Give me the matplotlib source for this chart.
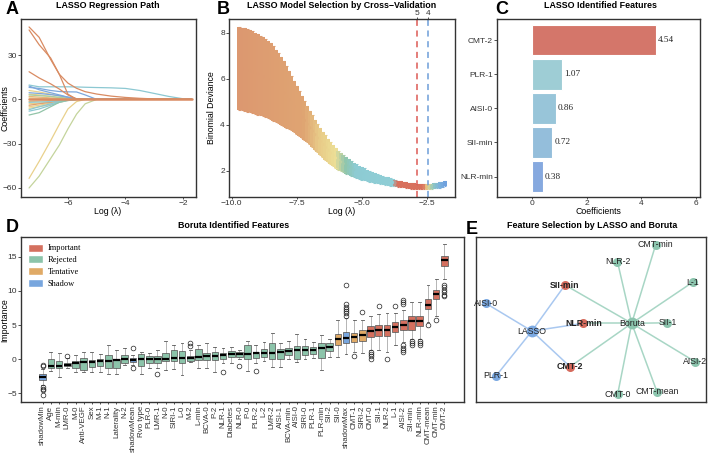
import matplotlib
matplotlib.use('Agg')
import matplotlib.pyplot as plt
import numpy as np
from matplotlib.patches import Patch
from matplotlib.colors import LinearSegmentedColormap

plt.rcParams['font.family'] = ['Liberation Sans', 'DejaVu Sans']
plt.rcParams['axes.unicode_minus'] = True

# ---------------- Panel A data: LASSO coefficient paths ----------------
lam_path = [-7.35, -7.0, -6.6, -6.3, -6.0, -5.7, -5.4, -5.0, -4.5, -4.0, -3.5, -3.0, -2.5, -2.0, -1.7]
a_paths = [
    [6.0, 5.0, 3.5, 2.2, 1.0, 0.2, 0, 0, 0, 0, 0, 0, 0, 0, 0],
    [3.5, 3.0, 2.0, 1.0, 0.3, 0, 0, 0, 0, 0, 0, 0, 0, 0, 0],
    [-3.0, -2.5, -1.8, -1.0, -0.3, 0, 0, 0, 0, 0, 0, 0, 0, 0, 0],
    [-5.0, -4.0, -2.5, -1.5, -0.5, 0, 0, 0, 0, 0, 0, 0, 0, 0, 0],
    [-6.0, -5.0, -3.5, -2.0, -0.8, 0, 0, 0, 0, 0, 0, 0, 0, 0, 0],
    [1.0, 0.8, 0.5, 0.3, 0.1, 0, 0, 0, 0, 0, 0, 0, 0, 0, 0],
    [-1.5, -1.2, -0.8, -0.4, 0, 0, 0, 0, 0, 0, 0, 0, 0, 0, 0],
    [2.0, 1.5, 1.0, 0.6, 0.2, 0, 0, 0, 0, 0, 0, 0, 0, 0, 0],
    [-4.0, -3.0, -2.0, -1.0, -0.4, 0, 0, 0, 0, 0, 0, 0, 0, 0, 0],
    [-7.0, -5.0, -3.0, -1.5, -0.5, 0, 0, 0, 0, 0, 0, 0, 0, 0, 0],
    [-8.0, -6.5, -4.0, -2.0, -0.8, 0, 0, 0, 0, 0, 0, 0, 0, 0, 0],
    [-2.0, -1.8, -1.5, -1.0, -0.5, -0.2, 0, 0, 0, 0, 0, 0, 0, 0, 0],
    [3.0, 2.5, 2.0, 1.4, 0.8, 0.3, 0, 0, 0, 0, 0, 0, 0, 0, 0],
    [-10.6, -9.0, -5.0, -2.0, -0.5, 0, 0, 0, 0, 0, 0, 0, 0, 0, 0],
    [-53.5, -42.0, -28.0, -17.0, -6.5, -1.5, 0, 0, 0, 0, 0, 0, 0, 0, 0],
    [-60.0, -52.0, -40.0, -31.0, -20.0, -10.0, -3.0, 0, 0, 0, 0, 0, 0, 0, 0],
    [4.5, 4.0, 3.2, 2.5, 1.5, 0.5, 0, 0, 0, 0, 0, 0, 0, 0, 0],
    [9.0, 6.5, 4.5, 3.0, 1.5, 0.3, 0, 0, 0, 0, 0, 0, 0, 0, 0],
    [8.1, 7.4, 6.0, 5.3, 5.1, 5.0, 3.0, 0, 0, 0, 0, 0, 0, 0, 0],
    [9.7, 8.5, 8.5, 8.5, 8.5, 8.4, 8.2, 8.0, 7.8, 7.4, 6.0, 4.0, 2.0, 0.4, 0],
    [18.7, 14.5, 10.5, 7.0, 3.0, 0.3, 0, 0, 0, 0, 0, 0, 0, 0, 0],
    [47.0, 37.0, 28.0, 17.0, 3.5, 0, 0, 0, 0, 0, 0, 0, 0, 0, 0],
    [49.0, 42.0, 27.0, 17.0, 11.0, 7.5, 5.2, 3.6, 2.2, 1.3, 0.7, 0.3, 0.1, 0, 0],
    [0, 0, 0, 0, 0, 0, 0, 0, 0, 0, 0, 0, 0, 0, 0],
]
a_colors = ['#E9D18C', '#E9D18C', '#E9D18C', '#E9D18C', '#E9D18C', '#E9D18C',
            '#E8B67A', '#E8B67A', '#E0A070', '#8CC8D2', '#8CC8D2', '#8CC8D2',
            '#A8CDA0', '#92C4A8', '#E9D18C', '#C4D49C', '#7DA7DC', '#7DA7DC',
            '#7DA7DC', '#8CC8D2', '#D98B62', '#D98B62', '#D98B62', '#D98B62']

# ---------------- Panel B data: cross-validation curve ----------------
cv_lambda = [-9.7, -9.6, -9.5, -9.4, -9.3, -9.2, -9.1, -9.0, -8.9, -8.8,
             -8.7, -8.6, -8.5, -8.4, -8.3, -8.2, -8.1, -8.0, -7.9, -7.8,
             -7.7, -7.6, -7.5, -7.4, -7.3, -7.2, -7.1, -7.0, -6.9, -6.8,
             -6.7, -6.6, -6.5, -6.4, -6.3, -6.2, -6.1, -6.0, -5.9, -5.8,
             -5.7, -5.6, -5.5, -5.4, -5.3, -5.2, -5.1, -5.0, -4.9, -4.8,
             -4.7, -4.6, -4.5, -4.4, -4.3, -4.2, -4.1, -4.0, -3.9, -3.8,
             -3.7, -3.6, -3.5, -3.4, -3.3, -3.2, -3.1, -3.0, -2.9, -2.8,
             -2.7, -2.6, -2.5, -2.4, -2.3, -2.2, -2.1, -2.0, -1.9, -1.8]
cv_mean = [6.45, 6.43, 6.40, 6.37, 6.33, 6.29, 6.25, 6.20, 6.15, 6.09,
           6.03, 5.97, 5.90, 5.80, 5.70, 5.59, 5.48, 5.37, 5.23, 5.09,
           4.95, 4.81, 4.66, 4.50, 4.34, 4.19, 4.03, 3.88, 3.73, 3.58,
           3.43, 3.29, 3.15, 3.02, 2.90, 2.78, 2.67, 2.56, 2.47, 2.39,
           2.31, 2.24, 2.18, 2.12, 2.06, 2.00, 1.94, 1.89, 1.85, 1.81,
           1.77, 1.73, 1.70, 1.67, 1.64, 1.61, 1.58, 1.55, 1.52, 1.50,
           1.47, 1.45, 1.43, 1.41, 1.39, 1.37, 1.35, 1.34, 1.33, 1.32,
           1.31, 1.31, 1.32, 1.33, 1.34, 1.35, 1.37, 1.39, 1.41, 1.44]
cv_se = [1.80, 1.80, 1.80, 1.79, 1.78, 1.77, 1.76, 1.75, 1.73, 1.71,
         1.69, 1.67, 1.65, 1.61, 1.57, 1.52, 1.47, 1.42, 1.35, 1.27,
         1.19, 1.11, 1.04, 0.97, 0.90, 0.84, 0.78, 0.73, 0.69, 0.65,
         0.61, 0.58, 0.55, 0.53, 0.50, 0.48, 0.46, 0.44, 0.41, 0.39,
         0.37, 0.35, 0.33, 0.32, 0.30, 0.29, 0.28, 0.27, 0.26, 0.25,
         0.24, 0.23, 0.22, 0.21, 0.20, 0.19, 0.18, 0.17, 0.16, 0.15,
         0.14, 0.13, 0.13, 0.12, 0.12, 0.12, 0.12, 0.12, 0.11, 0.11,
         0.11, 0.11, 0.11, 0.11, 0.11, 0.11, 0.11, 0.11, 0.11, 0.11]
lambda_min = -2.86
lambda_1se = -2.46
nz_labels = ['5', '4']
b_anchor_pos = [-9.7, -7.2, -6.6, -6.0, -5.6, -5.2, -3.75, -3.65, -2.6, -2.45, -2.25, -2.0, -1.8]
b_anchor_col = ['#DC9870', '#DFA472', '#E8CB88', '#ECDE96', '#8EC5AE', '#8DCBD3',
                '#8FCED6', '#D8705D', '#D8705D', '#EBD48A', '#8ECAC0', '#7DB3DB', '#6FA1DE']

# ---------------- Panel C data ----------------
c_features = ['CMT-2', 'PLR-1', 'AISI-0', 'SII-min', 'NLR-min']
c_coefs = [4.54, 1.07, 0.86, 0.72, 0.38]
c_colors = ['#D4766A', '#9ECDD5', '#98C5D9', '#94BEDB', '#86A9DF']

# ---------------- Panel D data: Boruta ----------------
d_labels = ['shadowMin', 'Age', 'M-min', 'LMR-0', 'M-0', 'Anti-VEGF', 'Sex', 'M-1', 'N-1',
            'Laterality', 'N-2', 'shadowMean', 'Rvo type', 'PLR-0', 'LMR-1', 'N-0', 'SIRI-1',
            'L-0', 'M-2', 'L-min', 'BCVA-0', 'P-2', 'NLR-1', 'Diabetes', 'NLR-0', 'P-0',
            'PLR-2', 'L-2', 'LMR-2', 'AISI-1', 'BCVA-min', 'AISI-0', 'SIRI-0', 'PLR-1',
            'PLR-min', 'SII-2', 'SII-0', 'shadowMax', 'CMT-1', 'SIRI-2', 'CMT-0', 'SII-1',
            'NLR-2', 'L-1', 'AISI-2', 'SII-min', 'NLR-min', 'CMT-mean', 'CMT-min', 'CMT-2']
d_status = ['Shadow'] + ['Rejected'] * 10 + ['Shadow'] + ['Rejected'] * 24 + \
           ['Tentative', 'Shadow', 'Tentative', 'Tentative'] + ['Important'] * 10
d_lo = [-3.8, -1.7, -2.6, -1.3, -1.85, -1.85, -1.85, -1.85, -2.24, -2.24,
        -0.88, -0.8, -2.24, -1.27, -1.3, -1.6, -1.5, -2.34, -0.4, -1.36,
        -1.36, -1.85, -0.63, -0.54, 0.0, -1.75, -0.5, -0.3, -1.2, -1.2,
        0.1, -0.4, 0.0, 0.2, -1.56, 0.3, 0.34, 0.78, 1.07, 0.97,
        1.4, 1.3, 1.07, 2.05, 2.5, 3.0, 2.9, 5.46, 6.4, 11.8]
d_q1 = [-3.02, -1.36, -1.36, -1.0, -1.27, -1.6, -1.17, -0.97, -1.27, -1.27,
        -0.54, -0.39, -1.02, -0.54, -0.54, -0.3, -0.3, -0.63, -0.3, -0.05,
        -0.15, -0.15, 0.1, 0.34, 0.39, 0.0, 0.2, 0.34, 0.1, 0.1,
        0.68, 0.1, 0.68, 0.78, 0.2, 1.22, 2.14, 2.3, 2.53, 2.73,
        3.3, 3.4, 3.36, 4.0, 4.34, 4.34, 4.87, 7.3, 8.77, 13.7]
d_med = [-2.63, -1.02, -1.0, -0.78, -0.63, -0.44, -0.44, -0.3, -0.3, -0.15,
         0.0, -0.1, 0.0, 0.1, 0.1, 0.1, 0.2, 0.2, 0.24, 0.34,
         0.49, 0.54, 0.58, 0.73, 0.83, 0.83, 0.88, 0.88, 0.97, 1.07,
         1.27, 1.36, 1.41, 1.36, 1.66, 1.75, 2.92, 3.07, 3.27, 3.6,
         4.1, 4.24, 4.24, 4.73, 5.07, 5.56, 5.56, 8.0, 9.6, 14.6]
d_q3 = [-2.24, 0.0, -0.3, -0.54, -0.2, 0.2, -0.05, 0.1, 0.58, 0.1,
        0.68, 0.2, 0.83, 0.49, 0.49, 0.97, 1.3, 1.17, 0.49, 1.56,
        0.97, 1.12, 0.97, 1.27, 1.07, 2.05, 1.07, 1.46, 2.3, 1.56,
        1.66, 1.95, 1.9, 1.75, 2.3, 2.34, 3.65, 4.0, 3.9, 4.24,
        4.8, 5.07, 4.97, 5.46, 5.7, 6.3, 6.3, 8.77, 10.2, 15.1]
d_hi = [-1.5, 1.07, 0.9, 0.2, 0.6, 1.07, 1.07, 0.78, 2.05, 1.4,
        1.66, 0.6, 1.07, 0.97, 1.3, 2.6, 2.1, 2.3, 1.3, 2.1,
        2.3, 1.8, 1.7, 1.85, 1.4, 2.7, 2.05, 2.5, 3.85, 2.4,
        2.6, 3.7, 2.9, 2.5, 3.6, 3.0, 5.7, 6.1, 5.8, 5.7,
        6.4, 6.6, 6.7, 6.8, 7.2, 8.4, 8.4, 10.8, 11.8, 16.9]
d_fliers = [[-0.9, -1.0, -4.1, -4.3, -4.45, -5.3], [], [], [0.5], [], [], [], [], [], [],
            [], [1.7, -1.3], [], [], [-2.2], [], [], [], [2.3, 1.9], [],
            [], [], [-1.85], [], [-0.97], [], [-1.75], [], [], [],
            [], [], [], [], [], [], [], [10.9, 8.1, 7.65, 7.3, 7.0, 6.7, 6.4], [0.44], [6.9],
            [1.07, 0.73, 0.44, 0.1], [7.75], [0.0], [7.8], [8.6, 8.4, 8.1, 2.05, 1.7, 1.4, 1.07],
            [2.6, 2.3, 2.05], [2.6, 2.4, 2.1], [5.07], [5.7], [10.9, 10.6, 10.2, 9.8, 9.45, 9.2]]
status_names = ['Important', 'Rejected', 'Tentative', 'Shadow']
status_colors = {'Important': '#D4705F', 'Rejected': '#8CC4AA', 'Tentative': '#E0AA66', 'Shadow': '#78A6DE'}

# ---------------- Panel E data: network ----------------
e_nodes = ['LASSO', 'Boruta', 'SII-min', 'NLR-min', 'CMT-2', 'AISI-0', 'PLR-1',
           'CMT-min', 'NLR-2', 'L-1', 'SII-1', 'AISI-2', 'CMT-mean', 'CMT-0']
e_x = [0.243, 0.677, 0.387, 0.467, 0.409, 0.043, 0.087, 0.781, 0.615, 0.942, 0.832, 0.953, 0.787, 0.616]
e_y = [0.430, 0.477, 0.709, 0.477, 0.214, 0.598, 0.158, 0.952, 0.851, 0.726, 0.480, 0.244, 0.062, 0.048]

# ======================================================================
W, H = 708, 455
fig = plt.figure(figsize=(W / 100, H / 100), dpi=100)

def px_axes(x0, y0, x1, y1):
    return fig.add_axes([x0 / W, 1 - y1 / H, (x1 - x0) / W, (y1 - y0) / H])

def ftext(x, y, s, **kw):
    kw.setdefault('ha', 'center')
    kw.setdefault('va', 'center')
    return fig.text(x / W, 1 - y / H, s, **kw)

def style(ax):
    for s in ax.spines.values():
        s.set_linewidth(1.0)
        s.set_color('#333333')
    ax.tick_params(length=2.0, width=0.6, color='#333333', labelsize=6,
                   labelcolor='#333333', pad=1.0)
    ax.tick_params(axis='x', length=1.6, pad=0.3)

TFS = 6.4
LFS = 13

# ---------------- A ----------------
axA = px_axes(21, 19, 196, 197)
for vals, col in zip(a_paths, a_colors):
    lw = 1.8 if max(abs(v) for v in vals) == 0 else 0.9
    axA.plot(lam_path, vals, color=col, lw=lw, solid_capstyle='round')
axA.set_xlim(-7.63, -1.55)
axA.set_ylim(-66.1, 54.4)
axA.set_xticks([-6, -4, -2])
axA.set_yticks([-60, -30, 0, 30])
style(axA)
ftext(108, 5, 'LASSO Regression Path', fontsize=TFS, fontweight='bold')
ftext(12, 10, 'A', fontsize=LFS, fontweight='bold')
ftext(5, 108, 'Coefficients', fontsize=6.3, rotation=90)
ftext(108, 211, 'Log (λ)', fontsize=6.3)

# ---------------- B ----------------
axB = px_axes(229, 19, 455, 197)
pos = np.array(b_anchor_pos)
span = pos[-1] - pos[0]
cmap = LinearSegmentedColormap.from_list('cv', list(zip((pos - pos[0]) / span, b_anchor_col)))
lam = np.array(cv_lambda)
m = np.array(cv_mean)
se = np.array(cv_se)
cols = cmap(np.clip((lam - pos[0]) / span, 0, 1))
axB.vlines(lam, m - se, m + se, colors=cols, lw=2.6, antialiased=False)
axB.hlines(m + se, lam - 0.05, lam + 0.05, colors=cols, lw=0.8)
axB.hlines(m - se, lam - 0.05, lam + 0.05, colors=cols, lw=0.8)
axB.scatter(lam, m, c=cols, s=5, zorder=3, linewidths=0)
axB.axvline(lambda_min, color='#DC5A55', lw=1.1, ls=(0, (4, 3)))
axB.axvline(lambda_1se, color='#6E9ED9', lw=1.1, ls=(0, (4, 3)))
axB.set_xlim(-10.1, -1.41)
axB.set_ylim(0.87, 8.6)
axB.set_xticks([-10, -7.5, -5, -2.5])
axB.set_xticklabels(['−10.0', '−7.5', '−5.0', '−2.5'])
axB.set_yticks([2, 4, 6, 8])
style(axB)
top = axB.secondary_xaxis('top')
top.set_xticks([lambda_min, lambda_1se])
top.set_xticklabels(nz_labels)
top.tick_params(length=1.2, width=0.6, color='#333333', labelsize=6, pad=0.0, labelcolor='#333333')
top.spines['top'].set_visible(False)
ftext(342, 5, 'LASSO Model Selection by Cross−Validation', fontsize=TFS, fontweight='bold')
ftext(223, 10, 'B', fontsize=LFS, fontweight='bold')
ftext(211.5, 108, 'Binomial Deviance', fontsize=6.3, rotation=90)
ftext(342, 211, 'Log (λ)', fontsize=6.3)

# ---------------- C ----------------
axC = px_axes(497, 19, 700, 197)
ypos = np.arange(len(c_features))
axC.barh(ypos, c_coefs, height=0.9, color=c_colors, edgecolor='white', linewidth=0.8)
for yy, v in zip(ypos, c_coefs):
    axC.text(v + 0.08, yy, f'{v:.2f}', fontsize=6.6, va='center', ha='left',
             family=['Liberation Serif', 'DejaVu Serif'], color='#222222')
axC.set_yticks(ypos)
axC.set_yticklabels(c_features)
axC.set_xlim(-1.3, 6.15)
axC.set_ylim(4.6, -0.62)
axC.set_xticks([0, 2, 4, 6])
style(axC)
ftext(600, 5, 'LASSO Identified Features', fontsize=TFS, fontweight='bold')
ftext(502, 10, 'C', fontsize=LFS, fontweight='bold')
ftext(598, 211, 'Coefficients', fontsize=6.3)

# ---------------- D ----------------
axD = px_axes(21, 237, 464, 402)
stats = []
for i in range(len(d_labels)):
    stats.append(dict(med=d_med[i], q1=d_q1[i], q3=d_q3[i], whislo=d_lo[i],
                      whishi=d_hi[i], fliers=d_fliers[i]))
bp = axD.bxp(stats, positions=np.arange(len(d_labels)), widths=0.8, capwidths=0.35,
             patch_artist=True, showfliers=True,
             boxprops=dict(linewidth=0.6, edgecolor='#666666'),
             medianprops=dict(color='black', linewidth=1.6),
             whiskerprops=dict(color='#555555', linewidth=0.6, linestyle=(0, (1.2, 1.2))),
             capprops=dict(color='#555555', linewidth=0.6),
             flierprops=dict(marker='o', markersize=3.4, markerfacecolor='none',
                             markeredgecolor='#222222', markeredgewidth=0.5))
for patch, st in zip(bp['boxes'], d_status):
    patch.set_facecolor(status_colors[st])
axD.set_xlim(-2.65, 51.4)
axD.set_ylim(-6.27, 17.9)
axD.set_yticks([-5, 0, 5, 10, 15])
axD.set_xticks(np.arange(len(d_labels)))
axD.set_xticklabels(d_labels, rotation=90)
style(axD)
axD.tick_params(axis='x', labelsize=5.7, pad=1.0)
handles = [Patch(facecolor=status_colors[s], edgecolor='white', label=s) for s in status_names]
axD.legend(handles=handles, loc='upper left', frameon=False, borderaxespad=0.4,
           handlelength=1.8, handleheight=1.1, labelspacing=0.35, handletextpad=0.6,
           prop={'family': ['Liberation Serif', 'DejaVu Serif'], 'size': 6})
ftext(234, 225, 'Boruta Identified Features', fontsize=TFS, fontweight='bold')
ftext(12, 228, 'D', fontsize=LFS, fontweight='bold')
ftext(5, 320, 'Importance', fontsize=6.3, rotation=90)

# ---------------- E ----------------
axE = px_axes(476, 237, 706, 402)
boruta_feats = [l for l, s in zip(d_labels, d_status) if s == 'Important']
idx = {n: i for i, n in enumerate(e_nodes)}
for f in c_features:
    axE.plot([e_x[idx['LASSO']], e_x[idx[f]]], [e_y[idx['LASSO']], e_y[idx[f]]],
             color='#A9C8F0', lw=1.1, zorder=1)
for f in boruta_feats:
    axE.plot([e_x[idx['Boruta']], e_x[idx[f]]], [e_y[idx['Boruta']], e_y[idx[f]]],
             color='#A8D6C5', lw=1.1, zorder=1)
for n in e_nodes:
    i = idx[n]
    if n == 'LASSO':
        col, ms = '#7BA9E2', 8.5
    elif n == 'Boruta':
        col, ms = '#8CC5AE', 8.5
    elif n in c_features and n in boruta_feats:
        col, ms = '#D56B5D', 6.5
    elif n in c_features:
        col, ms = '#7BA9E2', 6.5
    else:
        col, ms = '#8CC5AE', 6.5
    axE.plot(e_x[i], e_y[i], 'o', color=col, ms=ms, mec='none', zorder=2)
    bold = (n in c_features and n in boruta_feats)
    axE.text(e_x[i], e_y[i], n, fontsize=6.3, ha='center', va='center', zorder=3,
             fontweight='bold' if bold else 'normal', color='#222222')
axE.set_xlim(0, 1)
axE.set_ylim(0, 1)
axE.set_xticks([])
axE.set_yticks([])
style(axE)
ftext(592, 225, 'Feature Selection by LASSO and Boruta', fontsize=TFS, fontweight='bold')
ftext(472, 229, 'E', fontsize=LFS, fontweight='bold')

fig.savefig('out.png', dpi=100)
